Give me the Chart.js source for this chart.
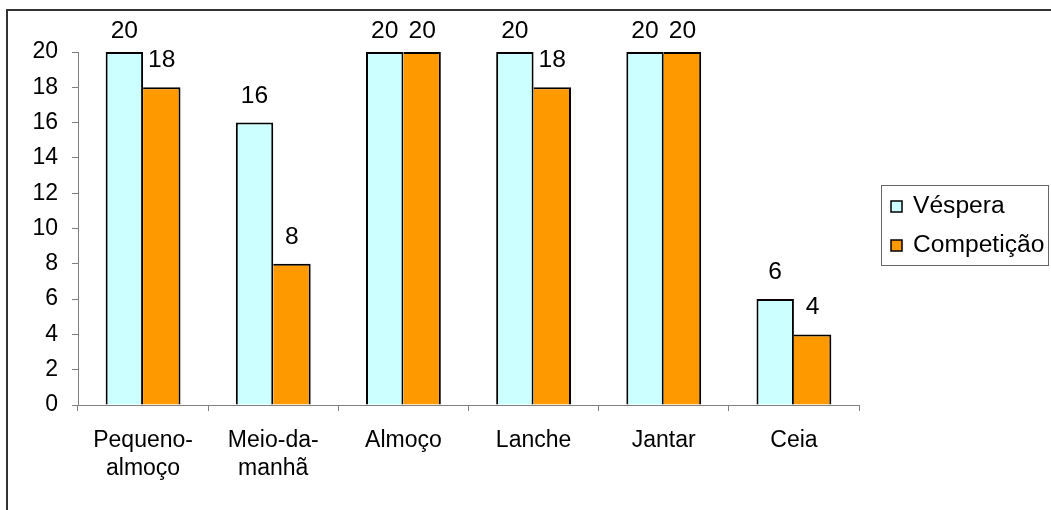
<!DOCTYPE html>
<html>
<head>
<meta charset="utf-8">
<style>
  html, body { margin: 0; padding: 0; background: #ffffff; }
  #wrap { width: 1051px; height: 510px; }
</style>
<script src="https://cdn.jsdelivr.net/npm/chart.js@4"></script>
</head>
<body>
<div id="wrap"><canvas id="c" width="1051" height="510"></canvas></div>
<script>
// Meals of the day
const categories = [
  ['Pequeno-', 'almoço'],
  ['Meio-da-', 'manhã'],
  'Almoço',
  'Lanche',
  'Jantar',
  'Ceia'
];

// Series values
const seriesNames = ['Véspera', 'Competição'];
const vesperaValues = [20, 16, 20, 20, 20, 6];
const competicaoValues = [18, 8, 20, 18, 20, 4];

// Value axis ticks
const yMin = 0;
const yMax = 20;
const yStep = 2;

const FONT = 'Liberation Sans, Arial, sans-serif';
const FONT_SIZE = 23;
const colors = ['#CCFFFF', '#FF9900'];

// Outer frame, value labels and the legend box
const decorations = {
  id: 'decorations',
  afterDraw(chart) {
    const ctx = chart.ctx;
    const area = chart.chartArea;

    // frame
    ctx.save();
    ctx.strokeStyle = '#333333';
    ctx.lineWidth = 2;
    ctx.beginPath();
    ctx.moveTo(7, 520);
    ctx.lineTo(7, 10);
    ctx.lineTo(1060, 10);
    ctx.stroke();
    ctx.restore();

    // value labels above bars
    ctx.save();
    ctx.fillStyle = '#000000';
    ctx.font = FONT_SIZE + 'px ' + FONT;
    ctx.textAlign = 'center';
    ctx.textBaseline = 'alphabetic';
    chart.data.datasets.forEach((ds, di) => {
      const meta = chart.getDatasetMeta(di);
      meta.data.forEach((bar, i) => {
        const y = Math.max(bar.y - 20, area.top - 14);
        ctx.save();
        ctx.translate(bar.x, y);
        ctx.scale(1.07, 1);
        ctx.fillText(String(ds.data[i]), 0, 0);
        ctx.restore();
      });
    });
    ctx.restore();

    // legend
    ctx.save();
    ctx.strokeStyle = '#666666';
    ctx.lineWidth = 1;
    ctx.strokeRect(881.5, 185.5, 167, 80);
    ctx.font = FONT_SIZE + 'px ' + FONT;
    ctx.textAlign = 'left';
    ctx.textBaseline = 'alphabetic';
    seriesNames.forEach((name, i) => {
      const top = 201 + i * 39;
      ctx.fillStyle = colors[i];
      ctx.fillRect(891, top, 11, 11);
      ctx.strokeStyle = '#000000';
      ctx.lineWidth = 1.5;
      ctx.strokeRect(891, top, 11, 11);
      ctx.fillStyle = '#000000';
      ctx.save();
      ctx.translate(913, top + 12);
      ctx.scale(1.07, 1);
      ctx.fillText(name, 0, 0);
      ctx.restore();
    });
    ctx.restore();
  }
};

new Chart(document.getElementById('c'), {
  type: 'bar',
  data: {
    labels: categories,
    datasets: [
      {
        label: seriesNames[0],
        data: vesperaValues,
        backgroundColor: colors[0],
        borderColor: '#000000',
        borderWidth: { top: 2, left: 2, right: 2, bottom: 0 },
        categoryPercentage: 0.575,
        barPercentage: 1
      },
      {
        label: seriesNames[1],
        data: competicaoValues,
        backgroundColor: colors[1],
        borderColor: '#000000',
        // the left edge is shared with the neighbouring bar's outline
        borderWidth: { top: 2, left: 0, right: 2, bottom: 0 },
        categoryPercentage: 0.575,
        barPercentage: 1
      }
    ]
  },
  options: {
    responsive: false,
    animation: false,
    devicePixelRatio: 1,
    layout: { padding: { top: 52, right: 192, left: 0, bottom: 0 } },
    plugins: {
      legend: { display: false },
      tooltip: { enabled: false }
    },
    scales: {
      x: {
        grid: {
          offset: true,
          drawOnChartArea: false,
          drawTicks: true,
          tickLength: 6,
          color: '#808080',
          lineWidth: 1
        },
        border: { color: '#808080', width: 1 },
        ticks: {
          color: '#000000',
          font: { family: FONT, size: FONT_SIZE, lineHeight: 1.2 },
          padding: 16,
          maxRotation: 0,
          autoSkip: false
        },
        afterFit(scale) { scale.height = 105; }
      },
      y: {
        min: yMin,
        max: yMax,
        grid: {
          drawOnChartArea: false,
          drawTicks: true,
          tickLength: 6,
          color: '#808080',
          lineWidth: 1
        },
        border: { color: '#808080', width: 1 },
        ticks: {
          stepSize: yStep,
          color: '#000000',
          font: { family: FONT, size: FONT_SIZE },
          padding: 14
        },
        afterFit(scale) { scale.width = 78; }
      }
    }
  },
  plugins: [decorations]
});
</script>
</body>
</html>
